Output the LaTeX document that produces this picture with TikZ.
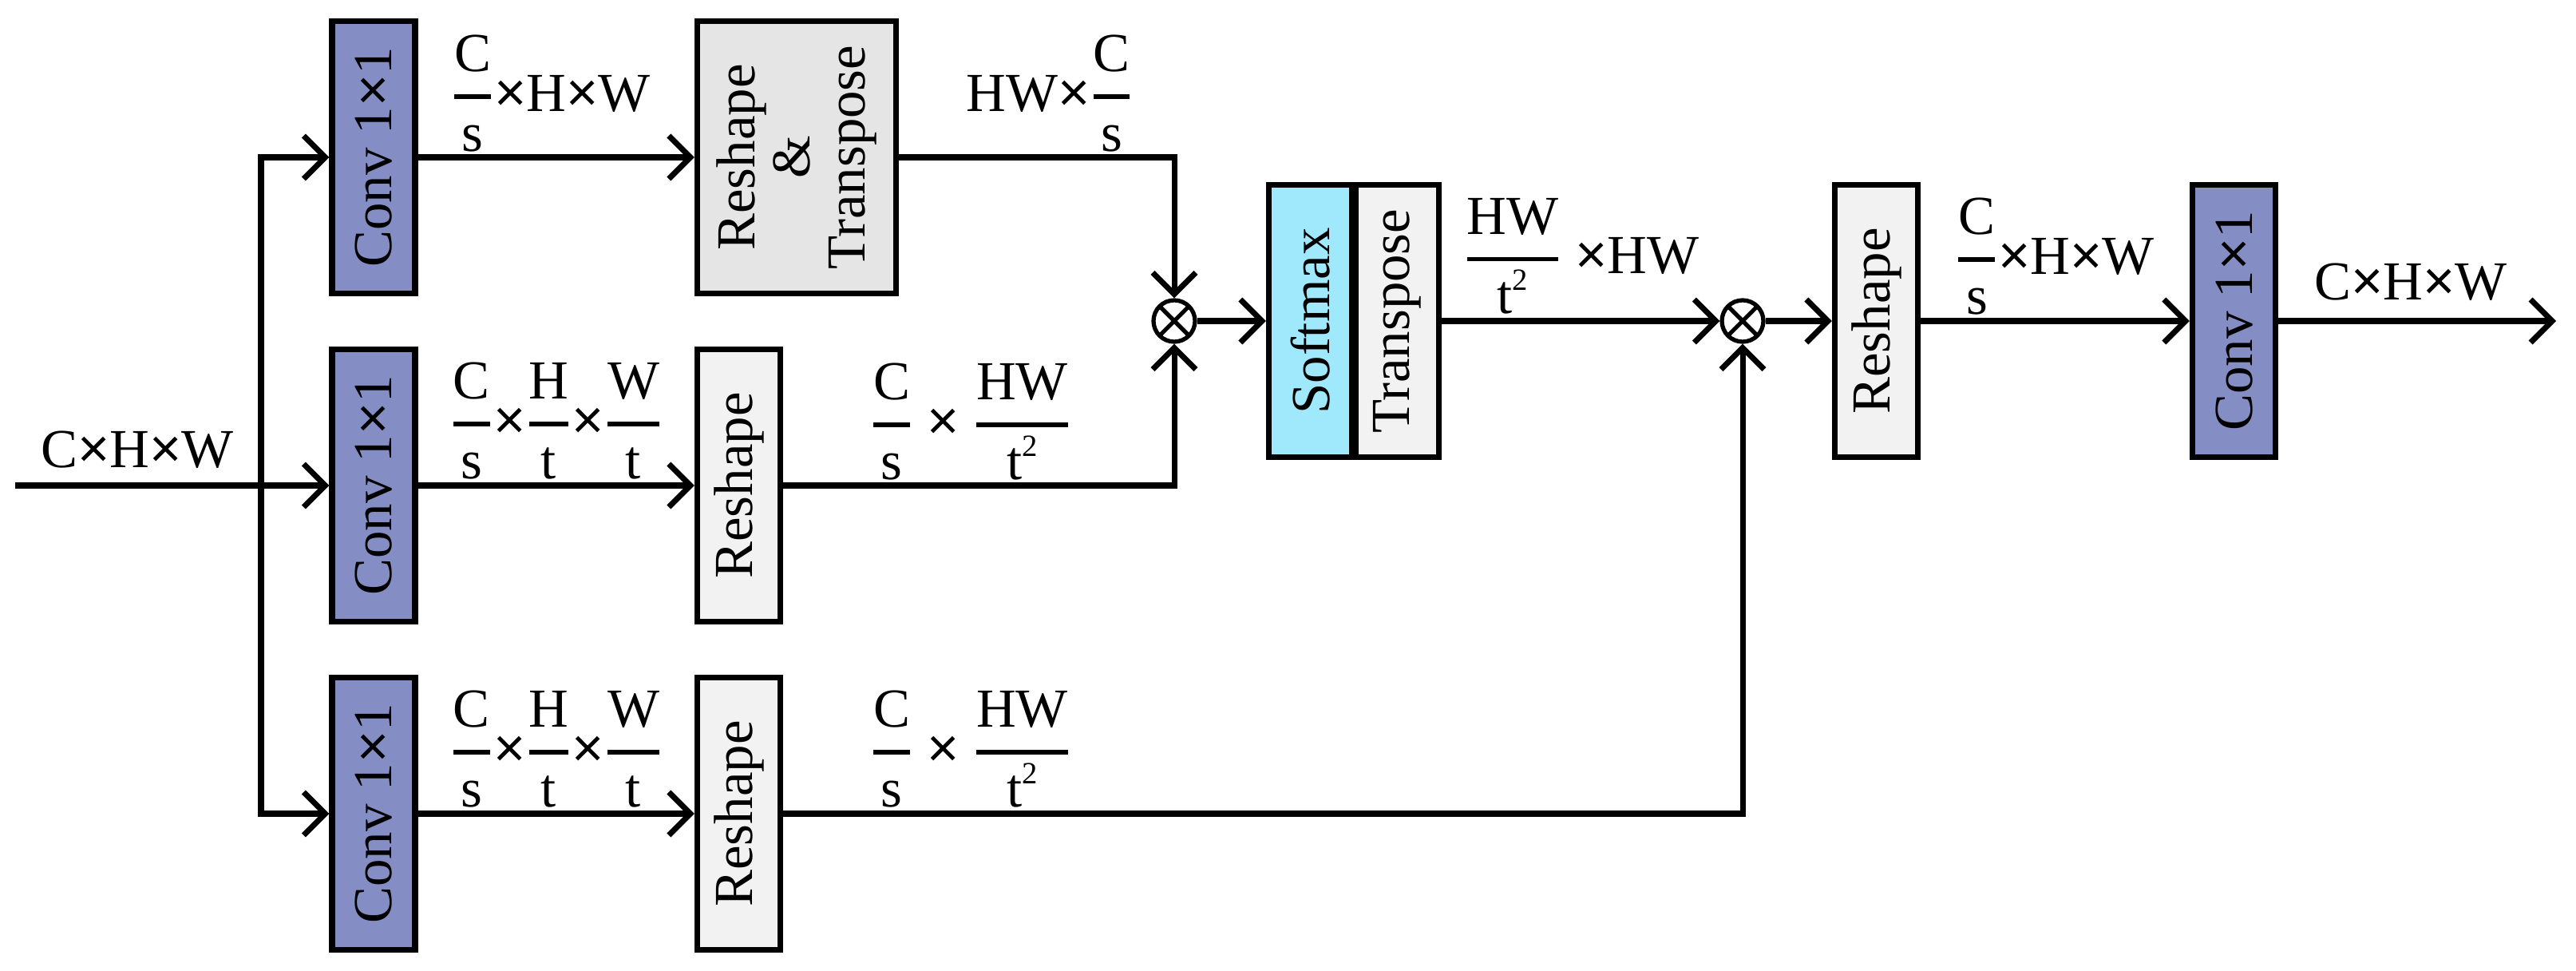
\documentclass[tikz,border=0pt]{standalone}
\usepackage{amsmath}
\usepackage{fontspec}
\setmainfont{Liberation Serif}
\newfontfamily\crossfont{Liberation Sans}
\usepackage{xcolor}
\usetikzlibrary{arrows.meta, positioning, calc}

\definecolor{convblue}{RGB}{132,142,196}
\definecolor{softcyan}{RGB}{160,233,253}
\definecolor{boxgray}{RGB}{242,242,242}
\definecolor{rtgray}{RGB}{229,229,229}

\newcommand{\fr}[2]{\genfrac{}{}{1.6pt}{0}{\text{#1}}{\text{#2}}}
\newcommand{\x}{{\crossfont ×}}
\newcommand{\sq}{\smash{\raisebox{0.42em}{\fontsize{11}{11}\selectfont 2}}}

\tikzset{
	blk/.style={draw, line width=2.1pt, rotate=90, inner sep=0pt, minimum width=3.41cm, minimum height=1.04cm, align=center},
	conv/.style={blk, fill=convblue},
	resh/.style={blk, fill=boxgray},
	mult/.style={draw, circle, line width=1.5pt, minimum size=0.52cm, inner sep=0pt,
		path picture={\draw[line width=1.5pt] (path picture bounding box.north west) -- (path picture bounding box.south east)
			(path picture bounding box.north east) -- (path picture bounding box.south west);}},
	lbl/.style={inner sep=0pt},
	flow/.style={line width=2pt, -{Straight Barb[length=0.27cm, width=0.54cm]}}
}

\begin{document}
\begin{tikzpicture}[font=\fontsize{19.6}{19.6}\selectfont]
			\useasboundingbox (0,0) rectangle (32.27,12.15);

			% three branches
			\foreach \n/\y in {1/10.18, 2/6.07, 3/1.96}
			{
				\node[conv] (c\n) at (4.68,\y) {Conv 1\x1};
			}

			\node[blk, fill=rtgray, minimum height=2.49cm] (rt) at (9.98,10.18) {Reshape\\\&\\Transpose};
			\node[resh] (r2) at (9.255,6.07) {Reshape};
			\node[resh] (r3) at (9.255,1.96) {Reshape};

			\node[mult] (m1) at (14.71,8.13) {};
			\node[blk, fill=softcyan] (sm) at (16.415,8.13) {Softmax};
			\node[resh] (tp) at (17.505,8.13) {Transpose};
			\node[mult] (m2) at (21.83,8.13) {};
			\node[resh] (r4) at (23.505,8.13) {Reshape};
			\node[conv] (c4) at (27.985,8.13) {Conv 1\x1};

			\coordinate (in) at (0.19,6.07);
			\coordinate (sp) at (3.27,6.07);
			\coordinate (out) at (32.02,8.13);

			% connectors
			\draw[line width=2pt] (in) -- (sp);
			\begin{scope}[flow]
				\draw (sp) |- (c1);
				\draw (sp) -- (c2);
				\draw (sp) |- (c3);
				\draw (c1) -- (rt);
				\draw (c2) -- (r2);
				\draw (c3) -- (r3);
				\draw (rt) -| (m1);
				\draw (r2) -| (m1);
				\draw (r3) -| (m2);
				\draw (m1) -- (sm);
				\draw (tp) -- (m2);
				\draw (m2) -- (r4);
				\draw (r4) -- (c4);
				\draw (c4) -- (out);
			\end{scope}

			% sizes
			\node[lbl] (lin) at (1.72,6.52) {C\x H\x W};
			\node[lbl] (l11) at (6.90,10.98) {$\fr{C}{s}$\x H\x W};
			\node[lbl] (l12) at (13.15,10.98) {HW\x$\fr{C}{s}$};
			\node[lbl] (l21) at (6.97,6.88) {$\fr{C}{s}$\x$\fr{H}{t}$\x$\fr{W}{t}$};
			\node[lbl] (l22) at (12.16,6.87) {$\fr{C}{s}$ \x\ $\fr{HW}{t\sq}$};
			\node[lbl] (l31) at (6.97,2.77) {$\fr{C}{s}$\x$\fr{H}{t}$\x$\fr{W}{t}$};
			\node[lbl] (l32) at (12.16,2.77) {$\fr{C}{s}$ \x\ $\fr{HW}{t\sq}$};
			\node[lbl] (l4) at (19.81,8.94) {$\fr{HW}{t\sq}$ \x HW};
			\node[lbl] (l5) at (25.74,8.94) {$\fr{C}{s}$\x H\x W};
			\node[lbl] (l6) at (30.20,8.62) {C\x H\x W};
\end{tikzpicture}
\end{document}
